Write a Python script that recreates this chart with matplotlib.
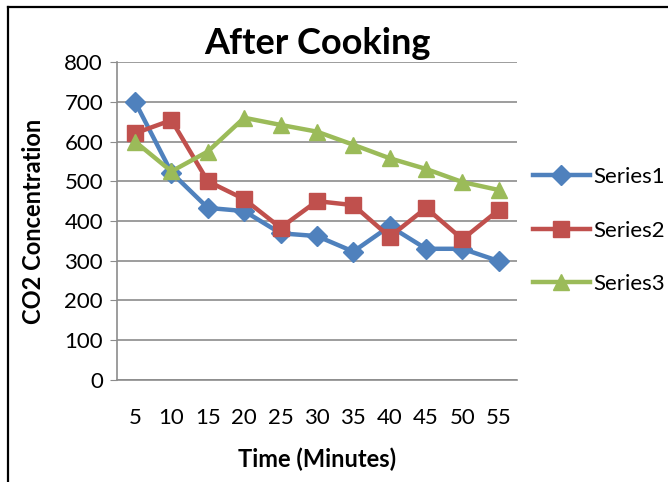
import matplotlib
matplotlib.use('Agg')
import matplotlib.pyplot as plt
from matplotlib.lines import Line2D

plt.rcParams['font.family'] = ['Lato', 'DejaVu Sans']

minutes = ['5', '10', '15', '20', '25', '30', '35', '40', '45', '50', '55']
series1 = [700, 522, 433, 425, 369, 362, 323, 387, 330, 330, 299]
series2 = [621, 654, 500, 455, 383, 450, 440, 360, 433, 354, 428]
series3 = [600, 525, 575, 660, 642, 625, 592, 558, 531, 498, 478]

fig = plt.figure(figsize=(6.68, 4.82), dpi=100)
ax = fig.add_axes([0.175, 0.212, 0.599, 0.659])

x = list(range(len(minutes)))
ax.plot(x, series1, color='#4F81BD', lw=3.2, marker='D', ms=10, label='Series1')
ax.plot(x, series2, color='#C0504D', lw=3.2, marker='s', ms=11, label='Series2')
ax.plot(x, series3, color='#9BBB59', lw=3.2, marker='^', ms=12, label='Series3')

ax.set_xlim(-0.5, len(minutes) - 0.5)
ax.set_ylim(0, 800)
ax.set_yticks(range(0, 801, 100))
ax.set_xticks(x)
ax.set_xticklabels(minutes)
ax.grid(axis='y', color='#8C8C8C', lw=1.2)
ax.set_axisbelow(True)
for s in ['top', 'right']:
    ax.spines[s].set_visible(False)
for s in ['left', 'bottom']:
    ax.spines[s].set_color('#8C8C8C')
    ax.spines[s].set_linewidth(1.2)
ax.tick_params(axis='y', length=5, color='#8C8C8C', labelsize=16, pad=5)
ax.tick_params(axis='x', length=0, labelsize=16, pad=20)

ax.set_title('After Cooking', fontsize=26, fontweight='bold', pad=6)
ax.set_xlabel('Time (Minutes)', fontsize=17, fontweight='bold', labelpad=14)
ax.set_ylabel('CO2 Concentration', fontsize=17, fontweight='bold', labelpad=14)

ax.legend(loc='center left', bbox_to_anchor=(1.0, 0.47), frameon=False,
          fontsize=16, labelspacing=1.5, handlelength=2.6, handletextpad=0.15,
          borderaxespad=0.3)

# frame lines from the screenshot
fig.add_artist(Line2D([8/668, 8/668], [0, 1 - 7/482], color='black', lw=1.6))
fig.add_artist(Line2D([8/668, 1], [1 - 7/482, 1 - 7/482], color='black', lw=1.6))

plt.savefig('out.png', dpi=100)
plt.close()
